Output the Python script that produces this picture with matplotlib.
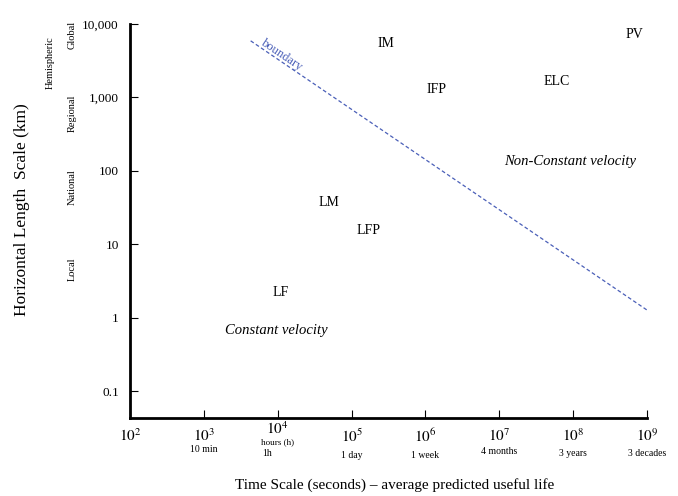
import matplotlib
matplotlib.use("Agg")
import matplotlib.pyplot as plt
from matplotlib.transforms import blended_transform_factory

plt.rcParams['font.family'] = ['Liberation Serif', 'DejaVu Serif']
plt.rcParams['mathtext.fontset'] = 'stix'

# positions des classes (secondes, km)
noms = ["IM", "IFP", "ELC", "PV", "LM", "LFP", "LF"]
temps = [2.9e5, 1.4e6, 5.9e7, 6.8e8, 5.0e4, 1.7e5, 1.1e4]
longueurs = [5500, 1300, 1670, 7300, 37.6, 15.6, 2.2]

# limite
bord_x = [4.3e3, 1.0e9]
bord_y = [5900, 1.27]

xticks = [1e2, 1e3, 1e4, 1e5, 1e6, 1e7, 1e8, 1e9]
xlabels = ["$10^{2}$", "$10^{3}$", "", "$10^{5}$", "$10^{6}$", "$10^{7}$", "$10^{8}$", "$10^{9}$"]
durees = ["10 min", "1 day", "1 week", "4 months", "3 years", "3 decades"]
durees_x = [1e3, 1e5, 1e6, 1e7, 1e8, 1e9]
durees_py = [450, 455, 456, 452, 453, 453]
yticks = [0.1, 1, 10, 100, 1000, 10000]
ylabels = ["0.1", "1", "10", "100", "1,000", "10,000"]
echelles = ["Global", "Hemispheric", "Regional", "National", "Local"]
echelles_y = [7000, 3000, 600, 60, 4.5]
echelles_px = [72, 50, 72, 72, 72]

fig = plt.figure(figsize=(6.78, 4.96), dpi=100)
ax = fig.add_axes([130/678, 78/496, 517/678, 394/496])
ax.set_xscale('log')
ax.set_yscale('log')
ax.set_xlim(1e2, 1e9)
ax.set_ylim(0.043, 10000)
for s in ['top', 'right']:
    ax.spines[s].set_visible(False)
for s in ['left', 'bottom']:
    ax.spines[s].set_linewidth(2)

ax.set_xticks(xticks)
ax.set_xticklabels(xlabels, fontsize=11)
ax.set_yticks(yticks)
ax.set_yticklabels(ylabels, fontsize=9.5)
ax.minorticks_off()
ax.tick_params(direction='in', length=6, width=0.8, pad=8)
ax.tick_params(axis='x', pad=7)

for nom, t, l in zip(noms, temps, longueurs):
    ax.text(t, l, nom, fontsize=10, ha='center', va='center')

ax.plot(bord_x, bord_y, ls=(0, (3, 2)), color='#4a5fb8', lw=0.9)
ax.text(1.15e4, 3800, "boundary", color='#4a5fb8', fontsize=9, rotation=-34,
        ha='center', va='center')

ax.text(9.1e7, 132, "Non-Constant velocity", fontsize=10.5, style='italic', ha='center', va='center')
ax.text(9.6e3, 0.66, "Constant velocity", fontsize=10.5, style='italic', ha='center', va='center')

# sous-titres de l'axe x
trx = blended_transform_factory(ax.transData, fig.transFigure)
ax.text(1e4, 1 - 429/496, "$10^{4}$", transform=trx, fontsize=11, ha='center', va='center')
for d, x, py in zip(durees, durees_x, durees_py):
    ax.text(x, 1 - py/496, d, transform=trx, fontsize=7, ha='center', va='center')
ax.text(1e4, 1 - 442/496, "hours (h)", transform=trx, fontsize=6.5, ha='center', va='center')
ax.text(1e4 * 0.72, 1 - 454/496, "1h", transform=trx, fontsize=7, ha='center', va='center')

# echelles spatiales
try_ = blended_transform_factory(fig.transFigure, ax.transData)
for e, y, px in zip(echelles, echelles_y, echelles_px):
    ax.text(px/678, y, e, transform=try_, fontsize=7.5, rotation=90, ha='center', va='center')

fig.text(22/678, 1 - 210/496, "Horizontal Length  Scale (km)", rotation=90, fontsize=12.5,
         ha='center', va='center')
fig.text(395/678, 1 - 485/496, "Time Scale (seconds) \u2013 average predicted useful life",
         fontsize=11, ha='center', va='center')

fig.savefig("out.png", dpi=100)
